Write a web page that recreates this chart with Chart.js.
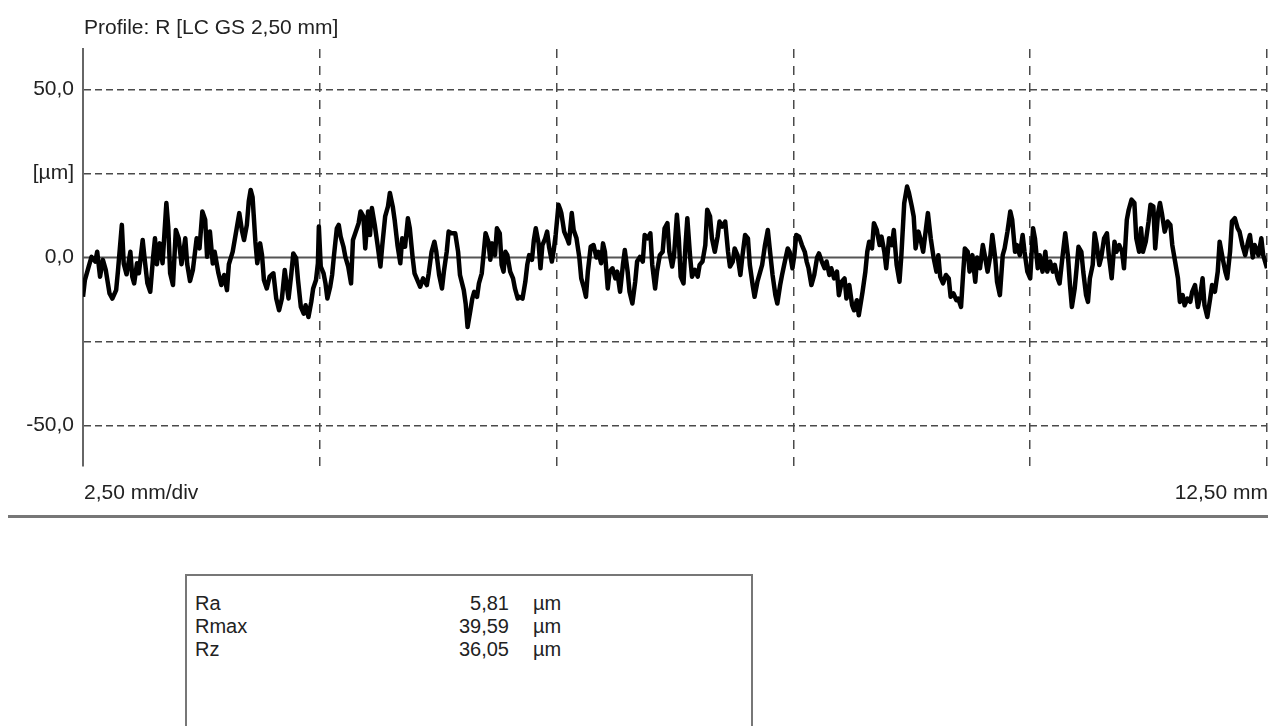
<!DOCTYPE html>
<html>
<head>
<meta charset="utf-8">
<script src="https://cdn.jsdelivr.net/npm/chart.js@4/dist/chart.umd.min.js"></script>
<style>
    html, body { margin: 0; padding: 0; background: #fff; }
    body { width: 1268px; height: 726px; position: relative; overflow: hidden;
           font-family: 'Liberation Sans Narrow', 'Liberation Sans', Arial, sans-serif; color: #222; }
    #profileChart { position: absolute; left: 0; top: 0; }
    .separator { position: absolute; left: 8px; top: 515px; width: 1260px; height: 3px; background: #777; }
    .stats-box { position: absolute; left: 185px; top: 574px; width: 564px; height: 200px; border: 2px solid #777; }
    .stat-row { position: absolute; left: 0; height: 23px; line-height: 23px; font-size: 20px; width: 100%; }
    .stat-row .name { position: absolute; left: 8px; }
    .stat-row .value { position: absolute; right: 242px; text-align: right; }
    .stat-row .unit { position: absolute; left: 346px; }
</style>
</head>
<body>
<canvas id="profileChart" width="1268" height="530"></canvas>
<div class="separator"></div>
<div class="stats-box" id="statsBox"></div>

<script>
// R profile, position along the trace (mm) and height (µm)
const profileX = [
    0.00, 0.02, 0.06, 0.09, 0.13, 0.15, 0.18, 0.21, 0.24, 0.28, 0.31, 0.35, 0.37, 0.41, 0.43, 0.46, 0.50, 0.52, 0.54, 0.57,
    0.59, 0.63, 0.65, 0.68, 0.71, 0.74, 0.76, 0.78, 0.81, 0.84, 0.88, 0.90, 0.92, 0.95, 0.98, 1.01, 1.04, 1.08, 1.10, 1.13,
    1.16, 1.20, 1.23, 1.26, 1.29, 1.31, 1.34, 1.37, 1.39, 1.43, 1.46, 1.49, 1.52, 1.54, 1.58, 1.62, 1.65, 1.68, 1.70, 1.73,
    1.75, 1.77, 1.79, 1.82, 1.84, 1.87, 1.89, 1.91, 1.94, 1.97, 2.01, 2.04, 2.07,
    2.10, 2.13, 2.15, 2.17, 2.20, 2.22, 2.25, 2.27, 2.30, 2.33, 2.35, 2.38, 2.41, 2.43, 2.46, 2.48, 2.49, 2.51, 2.54, 2.56,
    2.58, 2.61, 2.63, 2.65, 2.68, 2.70, 2.72, 2.75, 2.77, 2.80, 2.83, 2.85, 2.88, 2.91, 2.93, 2.96, 2.98, 3.01, 3.03, 3.05,
    3.08, 3.11, 3.14, 3.16, 3.19, 3.22, 3.24, 3.27, 3.29, 3.32, 3.35, 3.37, 3.40, 3.43, 3.45, 3.48, 3.50, 3.53, 3.56, 3.59,
    3.63, 3.65, 3.68, 3.71, 3.73, 3.76, 3.79, 3.81, 3.84, 3.86, 3.89, 3.93, 3.96, 3.98, 4.02, 4.04, 4.06, 4.09, 4.11, 4.13,
    4.16, 4.18, 4.21, 4.23, 4.25, 4.28, 4.30, 4.32, 4.35, 4.37, 4.40, 4.42, 4.44, 4.46, 4.48, 4.51, 4.54, 4.56, 4.59, 4.61,
    4.64, 4.67, 4.69, 4.71, 4.74, 4.76, 4.78, 4.81, 4.83, 4.85, 4.88, 4.90, 4.92, 4.95, 4.97, 4.99, 5.02, 5.04, 5.05, 5.08,
    5.11, 5.13, 5.16, 5.18, 5.21, 5.24, 5.26, 5.29, 5.31, 5.33, 5.36, 5.39, 5.42, 5.44, 5.47, 5.49, 5.51, 5.54, 5.56, 5.59,
    5.62, 5.64, 5.67, 5.70, 5.72, 5.75, 5.77, 5.80, 5.83, 5.85, 5.88, 5.91, 5.93, 5.96, 5.99, 6.01, 6.04, 6.06, 6.09, 6.12,
    6.14, 6.17, 6.19,
    6.22, 6.24, 6.27, 6.29, 6.31, 6.34, 6.36, 6.38, 6.41, 6.43, 6.46, 6.49, 6.51, 6.54, 6.57, 6.59, 6.62, 6.64, 6.67, 6.70,
    6.72, 6.75, 6.78, 6.81, 6.83, 6.86, 6.88, 6.91, 6.94, 6.96, 6.99, 7.02, 7.04, 7.07, 7.09, 7.12, 7.15, 7.17, 7.20, 7.23,
    7.25, 7.28, 7.31, 7.33, 7.36, 7.38, 7.41, 7.44, 7.46, 7.49, 7.51, 7.53, 7.56, 7.59, 7.62, 7.64, 7.66, 7.69, 7.72, 7.75,
    7.77, 7.80, 7.83, 7.85, 7.88, 7.90, 7.93, 7.96, 7.98, 8.01, 8.04, 8.06, 8.09, 8.12, 8.14, 8.17, 8.19,
    8.23, 8.26, 8.28, 8.30, 8.33, 8.35, 8.38, 8.41, 8.43, 8.46, 8.48, 8.51, 8.54, 8.56, 8.59, 8.62, 8.64, 8.67, 8.70, 8.72,
    8.75, 8.77, 8.79, 8.82, 8.84, 8.87, 8.90, 8.92, 8.95, 8.98, 9.01, 9.03, 9.05, 9.08, 9.11, 9.14, 9.16, 9.19, 9.22, 9.24,
    9.27, 9.29, 9.31, 9.34, 9.36, 9.39, 9.42, 9.44, 9.47, 9.50, 9.52, 9.55, 9.58, 9.60, 9.63, 9.65, 9.68, 9.71, 9.73, 9.76,
    9.79, 9.81, 9.84, 9.86, 9.89, 9.92, 9.94, 9.97, 10.00, 10.03, 10.05, 10.08, 10.10, 10.13, 10.16, 10.18, 10.21, 10.24, 10.26, 10.29,
    10.31,
    10.34, 10.37, 10.40, 10.42, 10.44, 10.47, 10.49, 10.51, 10.54, 10.56, 10.59, 10.61, 10.63, 10.66, 10.68, 10.70, 10.73, 10.75, 10.78, 10.81,
    10.83, 10.86, 10.89, 10.91, 10.94, 10.97, 10.99, 11.02, 11.04, 11.07, 11.10, 11.12, 11.15, 11.17, 11.19, 11.22, 11.25, 11.27, 11.30, 11.32,
    11.35, 11.37, 11.39, 11.42, 11.45, 11.48, 11.50, 11.53, 11.56, 11.58, 11.61, 11.63, 11.66, 11.69, 11.71, 11.74, 11.77, 11.79, 11.82, 11.84,
    11.87, 11.90, 11.92, 11.95, 11.98, 12.00, 12.03, 12.06, 12.08, 12.11, 12.13, 12.16, 12.19, 12.21, 12.24, 12.27, 12.30, 12.32, 12.35, 12.37,
    12.41, 12.44, 12.46, 12.49, 12.50
];
const profileY = [
    -11.7, -6.7, -2.7, 0.2, -1.2, 1.7, -5.7, -0.7, -3.7, -10.7, -12.2, -9.7, -3.7, 9.7, -1.8, -5.0, 1.7, -5.7, -7.7, -1.7,
    -4.7, 5.2, -0.2, -7.7, -10.2, 0.0, 5.7, -2.0, 4.2, -1.7, 16.2, 9.2, -4.7, -8.2, 8.2, 5.7, -2.0, 5.7, -2.0, -7.0,
    -3.7, 5.7, 2.7, 13.7, 11.2, 0.2, 7.7, -1.8, 1.7, -4.7, -8.2, -5.2, -9.7, -2.0, 1.7, 8.2, 13.2, 7.7, 5.2, 9.7,
    16.7, 20.1, 18.0, 4.7, -1.7, 4.2, 0.7, -6.7, -9.2, -5.7, -4.7, -12.2, -15.7,
    -12.2, -3.7, -8.2, -12.2, -4.7, 1.2, -0.2, -6.7, -14.7, -16.7, -14.2, -17.7, -13.2, -9.2, -6.7, -1.7, 9.2, -2.7, -4.7, -7.7,
    -12.2, -8.7, -5.2, 0.7, 8.7, 9.7, 6.2, 3.2, 0.2, -2.7, -7.7, 5.2, 7.7, 10.2, 13.7, 12.2, 2.7, 13.7, 6.7, 14.7,
    9.7, 3.7, -2.7, 3.7, 12.2, 15.2, 19.2, 15.2, 11.2, 3.7, -1.7, 5.7, 3.2, 11.7, 8.7, 0.0, -4.7, -6.7, -8.7, -6.2,
    -8.2, -4.7, 1.7, 4.7, 1.7, -5.2, -9.2, -4.2, 1.7, 7.7, 7.2, 7.2, 1.7, -5.2, -9.7, -13.7, -20.7, -15.7, -12.2, -10.2,
    -11.7, -7.7, -4.7, 1.2, 7.2, 4.7, -0.7, 4.2, 0.7, 8.7, 7.2, -2.2, -4.2, 1.7, 0.7, -4.2, -6.2, -9.2, -12.2, -11.7,
    -12.2, -7.2, -2.2, 0.7, -0.7, 5.2, 8.7, 4.2, -3.2, 3.7, 5.7, 7.7, 3.2, -1.2, 2.2, 6.7, 15.7, 14.2, 13.2, 7.7,
    5.7, 4.2, 13.2, 8.2, 5.7, 0.0, -6.2, -9.2, -11.7, -4.2, 3.2, 3.7, 0.0, 1.7, -1.7, 4.2, 1.7, -9.2, -4.2, -3.2,
    -6.2, -4.2, -10.2, -2.2, 2.2, -4.2, -10.2, -13.7, -7.2, -1.2, 0.2, -1.2, 6.7, 5.7, 7.2, -2.2, -9.2, -4.2, 0.7, 1.7,
    8.7, 10.2, 1.7,
    -2.7, 0.7, 12.7, 5.7, -5.7, -7.7, 3.2, 11.7, 0.0, -5.7, -3.7, -5.7, -2.2, -1.2, 3.7, 14.2, 12.2, 5.7, 1.7, 6.2,
    10.7, 9.2, 10.7, 1.7, -2.7, -1.2, 2.7, 0.7, -5.2, 0.0, 6.7, 5.7, -2.2, -8.2, -11.7, -7.2, -4.2, -2.2, 3.7, 8.2,
    2.7, -5.2, -11.2, -13.7, -8.2, -5.2, -1.2, 2.7, 1.7, -3.2, 0.7, 6.7, 6.2, 3.7, 1.7, -1.2, -3.2, -8.2, -5.2, 0.0,
    1.2, -1.2, -3.2, -1.2, -5.2, -3.2, -6.2, -4.2, -11.2, -7.2, -6.2, -12.2, -8.2, -14.2, -15.7, -12.7, -17.2,
    -10.2, -4.2, 1.7, 4.7, 2.7, 10.2, 8.2, 3.7, 6.2, 1.7, -3.2, 5.7, 3.7, 8.2, -2.2, -7.2, 0.7, 16.2, 21.1, 19.2,
    15.2, 12.2, 2.7, 7.7, 5.7, 1.7, 8.7, 13.2, 5.7, 0.0, -4.2, 0.7, -5.7, -7.7, -5.2, -6.2, -11.7, -10.7, -12.7, -12.2,
    -14.7, -5.7, 2.7, 1.7, -4.2, 0.7, -7.2, 0.0, -3.2, 3.7, 0.7, -4.2, 0.7, 6.7, 0.0, -7.2, -11.2, 0.7, 2.7, 7.7,
    13.7, 11.2, 1.7, 3.7, 0.7, 6.7, 1.7, -4.2, -6.2, 8.7, 5.7, -3.2, 0.7, -4.2, 1.7, -4.2, -1.2, -4.2, -2.2, -6.2,
    -7.7,
    0.0, 7.2, 0.0, -8.2, -14.7, -9.2, -3.2, 3.2, 1.7, -4.2, -11.2, -13.2, -6.2, -2.2, 7.2, 4.2, -2.2, 0.0, 5.7, 7.2,
    0.7, -6.2, 4.7, 1.7, 3.7, 1.7, -3.2, 11.2, 14.2, 17.2, 16.2, 5.7, 1.7, 8.7, 1.7, 4.7, 10.7, 15.7, 15.2, 2.7,
    13.2, 16.2, 13.2, 7.7, 10.7, 9.7, 3.7, -1.2, -6.2, -13.2, -11.2, -14.2, -12.2, -13.2, -10.2, -8.2, -14.7, -12.2, -6.2, -14.2,
    -17.7, -12.2, -8.2, -10.2, -4.2, 4.7, 0.0, -4.2, -6.2, 1.7, 10.7, 11.7, 8.7, 7.7, 3.7, 0.7, 4.7, 6.7, 0.0, 3.7,
    0.7, 5.7, 0.7, -2.2, -3.2
];

const xRange = [0, 12.5];
const xTickValues = [0, 2.5, 5, 7.5, 10, 12.5];
const yRange = [-62, 62];
const yTickValues = [-50, -25, 0, 25, 50];
const yTickLabels = ['-50,0', '', '0,0', '[µm]', '50,0'];

const titleText = 'Profile: R [LC GS 2,50 mm]';
const xScaleText = '2,50 mm/div';
const xEndText = '12,50 mm';

const statNames = ['Ra', 'Rmax', 'Rz'];
const statValues = ['5,81', '39,59', '36,05'];
const statUnits = ['µm', 'µm', 'µm'];

const FONT = "'Liberation Sans Narrow', 'Liberation Sans', Arial, sans-serif";

// texts around the plot area: title on top, scale info below
const profileLabels = {
    id: 'profileLabels',
    afterDraw(chart) {
        const { ctx, chartArea } = chart;
        ctx.save();
        ctx.fillStyle = '#222';
        ctx.font = `21px ${FONT}`;
        ctx.textBaseline = 'middle';
        ctx.textAlign = 'left';
        ctx.fillText(titleText, chartArea.left + 1, 28);
        ctx.fillText(xScaleText, chartArea.left + 1, 493);
        ctx.textAlign = 'right';
        ctx.fillText(xEndText, chart.width, 493);
        ctx.restore();
    }
};

class ProfileChart {
    constructor() {
        this.chart = null;
        this.init();
    }

    init() {
        Chart.defaults.font.family = FONT;
        Chart.defaults.color = '#222';
        this.renderChart();
        this.renderStats();
    }

    renderChart() {
        const ctx = document.getElementById('profileChart').getContext('2d');
        const points = profileX.map((x, i) => ({ x, y: profileY[i] }));
        const baseline = xRange.map(x => ({ x, y: 0 }));
        const gridColor = (c) => (c.tick && c.tick.value === 0) ? 'rgba(0,0,0,0)' : '#4a4a4a';

        this.chart = new Chart(ctx, {
            type: 'line',
            data: {
                datasets: [{
                    data: points,
                    borderColor: '#000',
                    borderWidth: 4.5,
                    pointRadius: 0,
                    tension: 0,
                    borderJoinStyle: 'round',
                    order: 1
                }, {
                    data: baseline,
                    borderColor: '#555',
                    borderWidth: 2,
                    pointRadius: 0,
                    order: 2
                }]
            },
            options: {
                responsive: false,
                animation: false,
                devicePixelRatio: 1,
                layout: { padding: { top: 49, right: 1, bottom: 64, left: 0 } },
                plugins: {
                    legend: { display: false },
                    tooltip: { enabled: false }
                },
                scales: {
                    x: {
                        type: 'linear',
                        min: xRange[0],
                        max: xRange[1],
                        afterBuildTicks: (s) => { s.ticks = xTickValues.map(value => ({ value })); },
                        afterFit: (s) => { s.height = 0; },
                        ticks: { display: false },
                        grid: { color: gridColor, lineWidth: 1.5, drawTicks: false },
                        border: { display: false, dash: [9, 8] }
                    },
                    y: {
                        min: yRange[0],
                        max: yRange[1],
                        afterBuildTicks: (s) => { s.ticks = yTickValues.map(value => ({ value })); },
                        afterFit: (s) => { s.width = 83; },
                        ticks: {
                            padding: 9,
                            font: { size: 21 },
                            color: '#222',
                            callback: (value) => {
                                const i = yTickValues.indexOf(value);
                                return i >= 0 ? yTickLabels[i] : '';
                            }
                        },
                        grid: { color: gridColor, lineWidth: 1.5, drawTicks: false },
                        border: { display: true, color: '#666', width: 2, dash: [7, 4] }
                    }
                }
            },
            plugins: [profileLabels]
        });
    }

    renderStats() {
        const box = document.getElementById('statsBox');
        box.innerHTML = statNames.map((name, i) => `
            <div class="stat-row" style="top:${16 + i * 23}px">
                <span class="name">${name}</span>
                <span class="value">${statValues[i]}</span>
                <span class="unit">${statUnits[i]}</span>
            </div>
        `).join('');
    }
}

document.addEventListener('DOMContentLoaded', () => new ProfileChart());
</script>
</body>
</html>
